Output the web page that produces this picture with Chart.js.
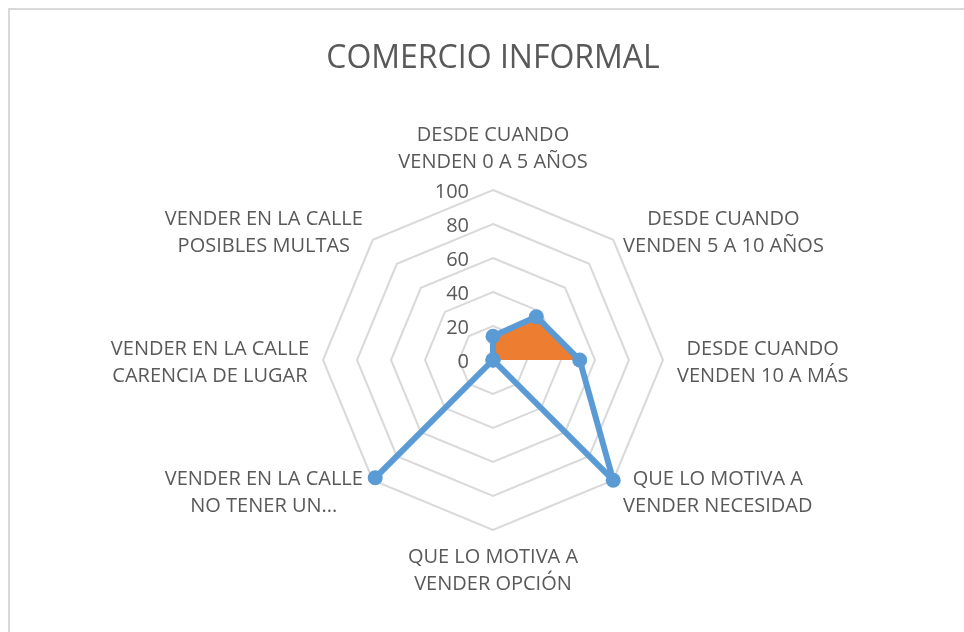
<!DOCTYPE html>
<html><head><meta charset="utf-8">
<script src="https://cdn.jsdelivr.net/npm/chart.js@4"></script>
<style>html,body{margin:0;padding:0;background:#fff;} canvas{display:block;}</style>
</head><body>
<canvas id="c" width="964" height="632"></canvas>
<script>
const categories = [
  ["DESDE CUANDO", "VENDEN 0 A 5 AÑOS"],
  ["DESDE CUANDO", "VENDEN 5 A 10 AÑOS"],
  ["DESDE CUANDO", "VENDEN 10 A MÁS"],
  ["QUE LO MOTIVA A", "VENDER NECESIDAD"],
  ["QUE LO MOTIVA A", "VENDER OPCIÓN"],
  ["VENDER EN LA CALLE", "NO TENER UN..."],
  ["VENDER EN LA CALLE", "CARENCIA DE LUGAR"],
  ["VENDER EN LA CALLE", "POSIBLES MULTAS"]
];
const serie1 = [14, 36, 51, 100, 0, 98, 0, 0];
const serie2 = [14, 36, 51, 0, 0, 0, 0, 0];
const tickValues = [0, 20, 40, 60, 80, 100];

const TEXT = '#595959';
const FONT = '"Open Sans", sans-serif';

const decor = {
  id: 'decor',
  beforeDraw(chart) {
    const ctx = chart.ctx;
    ctx.save();
    ctx.fillStyle = '#fff';
    ctx.fillRect(0, 0, chart.width, chart.height);
    ctx.strokeStyle = '#d9d9d9';
    ctx.lineWidth = 2;
    ctx.strokeRect(9, 9, chart.width + 20, chart.height + 20);
    ctx.restore();
  },
  afterDraw(chart) {
    const s = chart.scales.r;
    const ctx = chart.ctx;
    ctx.save();
    ctx.fillStyle = TEXT;
    ctx.font = '20px ' + FONT;
    ctx.textAlign = 'right';
    ctx.textBaseline = 'middle';
    s.ticks.forEach(t => {
      const d = s.getDistanceFromCenterForValue(t.value);
      ctx.fillText(String(t.value), s.xCenter - 24, s.yCenter - d + 2);
    });
    const lh = 27;
    chart.data.labels.forEach((lines, i) => {
      const p = s.getPointPosition(i, s.drawingArea + 14);
      let deg = (p.angle * 180 / Math.PI + 90) % 360;
      if (deg < 0) deg += 360;
      const w = Math.max(...lines.map(l => ctx.measureText(l).width));
      const h = lines.length * lh;
      let cx, top;
      if (deg < 1 || deg > 359) { cx = p.x; top = p.y - h; }
      else if (Math.abs(deg - 180) < 1) { cx = p.x; top = p.y; }
      else if (deg < 180) { cx = p.x + w / 2; top = p.y - h / 2 + 3; }
      else { cx = p.x - w / 2; top = p.y - h / 2 + 3; }
      ctx.textAlign = 'center';
      lines.forEach((l, k) => ctx.fillText(l, cx, top + lh * (k + 0.5)));
    });
    ctx.restore();
  }
};

new Chart(document.getElementById('c'), {
  type: 'radar',
  data: {
    labels: categories,
    datasets: [
      {
        label: 'Serie 1', data: serie1,
        borderColor: '#5b9bd5', backgroundColor: '#5b9bd5',
        borderWidth: 6, fill: false, tension: 0,
        pointRadius: 7.5, pointBackgroundColor: '#5b9bd5', pointBorderColor: '#5b9bd5', pointBorderWidth: 0,
        borderJoinStyle: 'round', order: 0
      },
      {
        label: 'Serie 2', data: serie2,
        borderColor: 'rgba(0,0,0,0)', backgroundColor: '#ed7d31',
        borderWidth: 1, fill: 'origin', tension: 0,
        pointRadius: 0, order: 1
      }
    ]
  },
  options: {
    responsive: false,
    animation: false,
    devicePixelRatio: 1,
    layout: { padding: { left: 323, right: 301, top: 18, bottom: 102 } },
    plugins: {
      legend: { display: false },
      tooltip: { enabled: false },
      title: {
        display: true, text: 'COMERCIO INFORMAL', color: TEXT,
        font: { family: FONT, size: 32, weight: 'normal', lineHeight: 1.2 },
        padding: { top: 22, bottom: 111.6 }
      }
    },
    scales: {
      r: {
        min: 0, max: 100,
        ticks: { display: false, stepSize: 20 },
        afterBuildTicks: s => { s.ticks = tickValues.map(v => ({ value: v })); },
        grid: { color: '#d9d9d9', lineWidth: 2 },
        angleLines: { display: false },
        pointLabels: { display: false }
      }
    }
  },
  plugins: [decor]
});
</script>
</body></html>
